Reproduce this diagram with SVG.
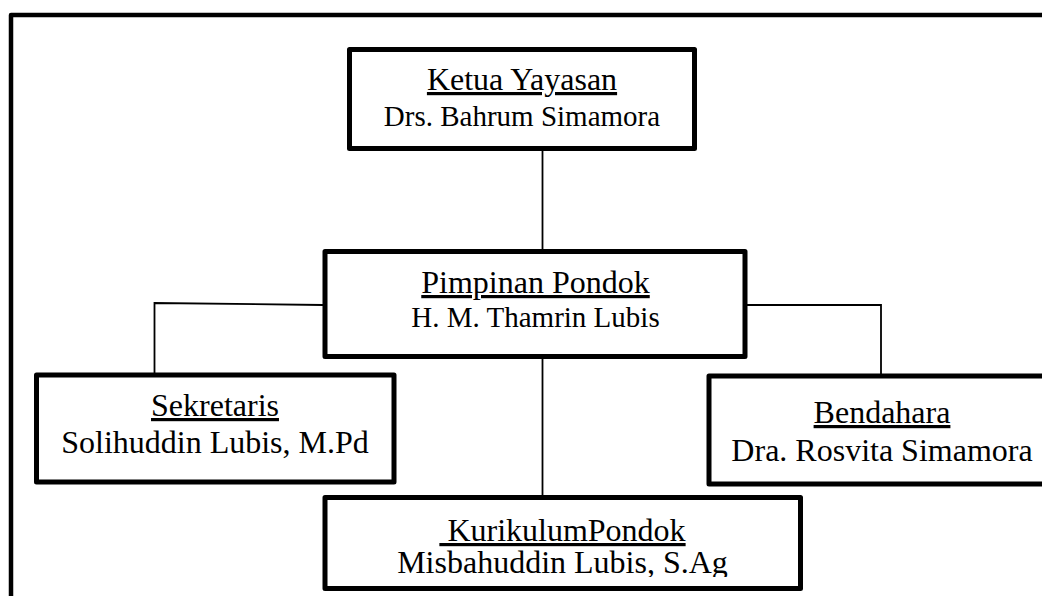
<svg xmlns="http://www.w3.org/2000/svg" width="1042" height="596" viewBox="0 0 1042 596">
  <style>
    .box { fill: #ffffff; stroke: #000000; stroke-width: 5; stroke-linejoin: round; }
    .frame { fill: none; stroke: #000000; stroke-width: 4.5; stroke-linejoin: round; }
    .link { fill: none; stroke: #000000; stroke-width: 1.8; }
    text { font-family: "Liberation Serif", "Times New Roman", serif; fill: #000000; text-anchor: middle; }
    .title { font-size: 32px; text-decoration: underline; }
    .name { font-size: 32px; }
    .name-sm { font-size: 29px; }
  </style>
  <defs>
    <clipPath id="kurikulum-clip">
      <rect x="328" y="500" width="470" height="77"/>
    </clipPath>
  </defs>

  <rect x="0" y="0" width="1042" height="596" fill="#ffffff"/>

  <!-- outer frame of the chart -->
  <path class="frame" d="M11,610 V15 H1060"/>

  <!-- connectors -->
  <g id="connectors">
    <line class="link" x1="542.5" y1="151" x2="542.5" y2="249"/>
    <line class="link" x1="542.5" y1="359" x2="542.5" y2="495"/>
    <polyline class="link" points="323,305 154.5,303 154.5,373"/>
    <polyline class="link" points="747,305 881,305 881,374"/>
  </g>

  <g id="ketua">
    <rect class="box" x="349.5" y="49.5" width="345" height="99"/>
    <text class="title" x="522" y="90">Ketua Yayasan</text>
    <text class="name-sm" x="522" y="126">Drs. Bahrum Simamora</text>
  </g>

  <g id="pimpinan">
    <rect class="box" x="325" y="251.5" width="420" height="105"/>
    <text class="title" x="535.5" y="293">Pimpinan Pondok</text>
    <text class="name-sm" x="535.5" y="327">H. M. Thamrin Lubis</text>
  </g>

  <g id="sekretaris">
    <rect class="box" x="36.5" y="375" width="357.5" height="107"/>
    <text class="title" x="215" y="416">Sekretaris</text>
    <text class="name" x="215" y="453">Solihuddin Lubis, M.Pd</text>
  </g>

  <g id="bendahara">
    <rect class="box" x="709" y="376" width="346" height="108"/>
    <text class="title" x="882" y="423">Bendahara</text>
    <text class="name" x="882" y="461">Dra. Rosvita Simamora</text>
  </g>

  <g id="kurikulum">
    <rect class="box" x="325" y="497.5" width="475.5" height="91"/>
    <g clip-path="url(#kurikulum-clip)">
      <text class="title" x="562.5" y="541" xml:space="preserve"> KurikulumPondok</text>
      <text class="name" x="562.5" y="573">Misbahuddin Lubis, S.Ag</text>
    </g>
  </g>
</svg>
